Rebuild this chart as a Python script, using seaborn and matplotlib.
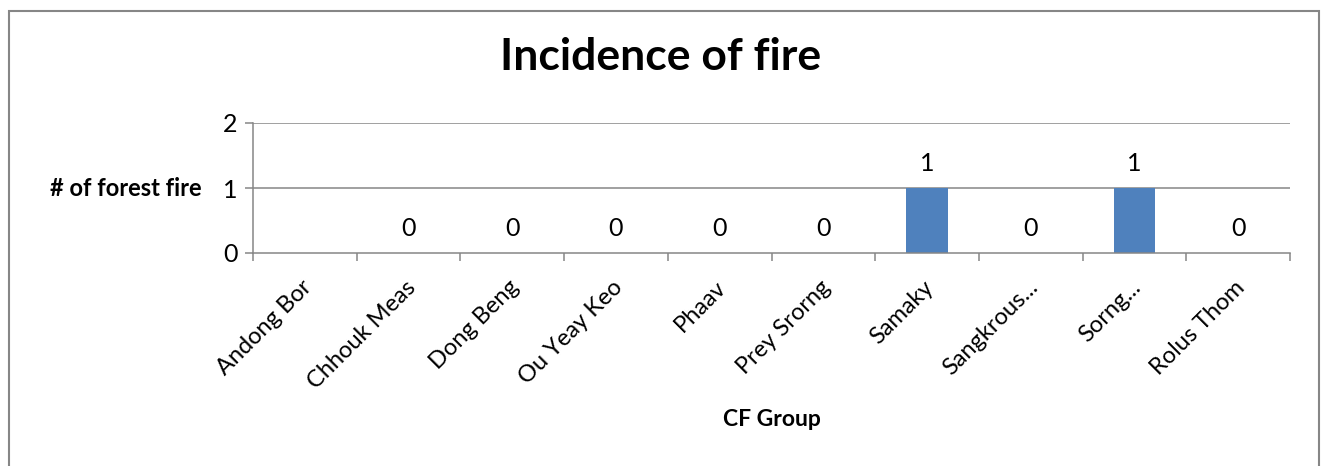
import numpy as np
import pandas as pd
import matplotlib
matplotlib.use("Agg")
import matplotlib.pyplot as plt
import matplotlib.transforms as mtransforms
from matplotlib.patches import Rectangle
import seaborn as sns

# Community forestry groups and recorded forest fires (Andong Bor has no record)
groups = ["Andong Bor", "Chhouk Meas", "Dong Beng", "Ou Yeay Keo", "Phaav",
          "Prey Srorng", "Samaky", "Sangkrous...", "Sorng...", "Rolus Thom"]
fires = [np.nan, 0, 0, 0, 0, 0, 1, 0, 1, 0]
y_ticks = [0, 1, 2]

title = "Incidence of fire"
x_title = "CF Group"
y_title = "# of forest fire"

bar_color = "#4F81BD"
axis_gray = "#868686"

sns.set_theme(style="white")
plt.rcParams["font.family"] = ["Lato", "DejaVu Sans"]

df = pd.DataFrame({"group": groups, "fires": fires})

fig = plt.figure(figsize=(13.22, 4.66), dpi=100)
W, H = 1322, 466
ax = fig.add_axes([253 / W, 1 - 253 / H, (1290 - 253) / W, (253 - 123) / H])

sns.barplot(data=df, x="group", y="fires", order=groups, color=bar_color,
            width=0.4, saturation=1, errorbar=None, linewidth=0, ax=ax, zorder=3)

ax.set_xlim(-0.5, len(groups) - 0.5)
ax.set_ylim(0, 2)
ax.set_yticks(y_ticks)
ax.set_yticklabels([str(t) for t in y_ticks], fontsize=18, color="black")

# gridlines
for t in y_ticks[1:]:
    ax.axhline(t, color=axis_gray, lw=1.1, zorder=1)

for side in ["top", "right"]:
    ax.spines[side].set_visible(False)
for side in ["left", "bottom"]:
    ax.spines[side].set_color(axis_gray)
    ax.spines[side].set_linewidth(1.1)
    ax.spines[side].set_zorder(4)

# category labels centred, tick marks between categories
ax.set_xticks(range(len(groups)))
ax.set_xticklabels(groups, rotation=45, ha="right", rotation_mode="anchor",
                   fontsize=17, color="black")
ax.tick_params(axis="x", which="major", length=0, pad=17)
shift = mtransforms.ScaledTranslation(-4 / 100, 0, fig.dpi_scale_trans)
for lbl in ax.get_xticklabels():
    lbl.set_transform(lbl.get_transform() + shift)
ax.set_xticks(np.arange(-0.5, len(groups), 1), minor=True)
ax.tick_params(axis="x", which="minor", bottom=True, length=6, width=1.1,
               color=axis_gray)
ax.tick_params(axis="y", which="major", left=True, length=6, width=1.1,
               color=axis_gray, pad=5)

# value labels
for i, v in enumerate(fires):
    if np.isnan(v):
        continue
    ax.annotate(f"{v:g}", (i, v), xytext=(0, 12.5), textcoords="offset points",
                ha="center", va="baseline", fontsize=18, color="black")

ax.set_xlabel(x_title, fontsize=16.5, fontweight="bold", color="black")
ax.xaxis.set_label_coords(0.5, (253 - 420) / 130)
ax.xaxis.label.set_va("center")
ax.set_ylabel(y_title, fontsize=17, fontweight="bold", color="black",
              rotation=0, ha="right", va="center")
ax.yaxis.set_label_coords((202 - 253) / 1037, 0.5)

fig.text(0.5, 1 - 70 / H, title, ha="center", va="baseline",
         fontsize=32, fontweight="bold", color="black")

# chart frame
fig.patches.append(Rectangle((8.5 / W, -0.05), (1318.5 - 8.5) / W, 1.05 - 10.5 / H,
                             transform=fig.transFigure, fill=False,
                             edgecolor=axis_gray, linewidth=1.5))

fig.savefig("out.png", dpi=100)
